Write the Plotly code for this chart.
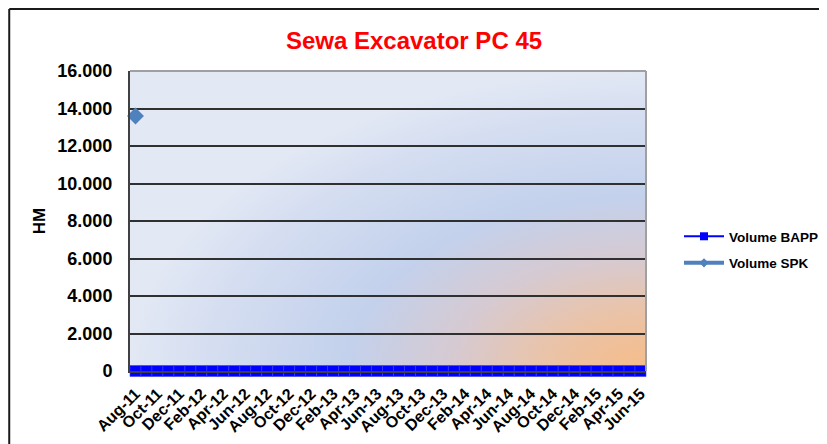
import base64
import plotly.graph_objects as go

months = ["Aug-11", "Sep-11", "Oct-11", "Nov-11", "Dec-11",
          "Jan-12", "Feb-12", "Mar-12", "Apr-12", "May-12", "Jun-12", "Jul-12",
          "Aug-12", "Sep-12", "Oct-12", "Nov-12", "Dec-12",
          "Jan-13", "Feb-13", "Mar-13", "Apr-13", "May-13", "Jun-13", "Jul-13",
          "Aug-13", "Sep-13", "Oct-13", "Nov-13", "Dec-13",
          "Jan-14", "Feb-14", "Mar-14", "Apr-14", "May-14", "Jun-14", "Jul-14",
          "Aug-14", "Sep-14", "Oct-14", "Nov-14", "Dec-14",
          "Jan-15", "Feb-15", "Mar-15", "Apr-15", "May-15", "Jun-15"]

tick_labels = ["Aug-11", "Oct-11", "Dec-11", "Feb-12", "Apr-12", "Jun-12",
               "Aug-12", "Oct-12", "Dec-12", "Feb-13", "Apr-13", "Jun-13",
               "Aug-13", "Oct-13", "Dec-13", "Feb-14", "Apr-14", "Jun-14",
               "Aug-14", "Oct-14", "Dec-14", "Feb-15", "Apr-15", "Jun-15"]

volume_bapp = [0, 0, 0, 0, 0, 0, 0, 0, 0, 0, 0, 0, 0, 0, 0, 0,
               0, 0, 0, 0, 0, 0, 0, 0, 0, 0, 0, 0, 0, 0, 0, 0,
               0, 0, 0, 0, 0, 0, 0, 0, 0, 0, 0, 0, 0, 0, 0]

volume_spk = [13600, None, None, None, None, None, None, None, None, None,
              None, None, None, None, None, None, None, None, None, None,
              None, None, None, None, None, None, None, None, None, None,
              None, None, None, None, None, None, None, None, None, None,
              None, None, None, None, None, None, None]

y_ticks = [0, 2000, 4000, 6000, 8000, 10000, 12000, 14000, 16000]

# plot area in figure pixels
L, R, T, B = 122, 639, 63, 363
W, H = R - L, B - T

svg = (
    '<svg xmlns="http://www.w3.org/2000/svg" width="517" height="300" '
    'viewBox="0 0 517 300" preserveAspectRatio="none">'
    '<defs><radialGradient id="g" cx="1" cy="1" r="1" fx="1" fy="1">'
    '<stop offset="0" stop-color="#F6BC88"/>'
    '<stop offset="0.2" stop-color="#EAC3A8"/>'
    '<stop offset="0.38" stop-color="#D6CAD2"/>'
    '<stop offset="0.58" stop-color="#C3D1EC"/>'
    '<stop offset="0.85" stop-color="#D5DEF1"/>'
    '<stop offset="1" stop-color="#E2E8F4"/>'
    '</radialGradient></defs>'
    '<rect x="0" y="0" width="517" height="300" fill="url(#g)"/></svg>'
)
bg_src = "data:image/svg+xml;base64," + base64.b64encode(svg.encode()).decode()

fig = go.Figure()
fig.add_trace(go.Scatter(
    x=months, y=volume_bapp, name="Volume BAPP", mode="lines+markers",
    line=dict(color="#0000FF", width=2),
    marker=dict(symbol="square", size=11, color="#0000FF", line=dict(width=0.6, color="#3A3AFF")),
    showlegend=False, cliponaxis=False,
))
fig.add_trace(go.Scatter(
    x=months, y=volume_spk, name="Volume SPK", mode="lines+markers",
    line=dict(color="#4F81BD", width=4),
    marker=dict(symbol="diamond", size=13, color="#4F81BD"),
    showlegend=False, cliponaxis=False,
))
# legend entries (Excel-style small markers)
fig.add_trace(go.Scatter(
    x=[None], y=[None], name="<b>Volume BAPP</b>", mode="lines+markers",
    line=dict(color="#0000FF", width=2),
    marker=dict(symbol="square", size=8, color="#0000FF"),
    legendgroup="a",
))
fig.add_trace(go.Scatter(
    x=[None], y=[None], name="<b>Volume SPK</b>", mode="lines+markers",
    line=dict(color="#4F81BD", width=4),
    marker=dict(symbol="diamond", size=7, color="#4F81BD"),
    legendgroup="b",
))

fig.update_layout(
    width=827, height=444,
    margin=dict(l=L, r=827 - R, t=T, b=444 - B),
    paper_bgcolor="white",
    plot_bgcolor="rgba(0,0,0,0)",
    font=dict(family="Arial, Liberation Sans, sans-serif", color="black"),
    title=dict(text="<b>Sewa Excavator PC 45</b>", font=dict(size=24, color="#FF0000"),
               x=406 / 827, xanchor="center", y=1 - 33 / 444, yanchor="middle",
               xref="container", yref="container"),
    xaxis=dict(
        type="category", range=[-0.5, 46.5],
        tickmode="array", tickvals=tick_labels, ticktext=["<b>%s</b>" % t for t in tick_labels],
        tickangle=-45, tickfont=dict(size=16),
        showgrid=False, ticks="", showline=True, linecolor="#404040", linewidth=2,
        ticklabelstandoff=5, zeroline=False,
    ),
    yaxis=dict(
        range=[0, 16000], tickmode="array", tickvals=y_ticks,
        ticktext=["<b>%s</b>" % ("{:,}".format(v).replace(",", ".")) for v in y_ticks],
        tickfont=dict(size=18), showgrid=True, gridcolor="#303030", gridwidth=1.5,
        showline=True, linecolor="#404040", linewidth=2, ticks="",
        zeroline=False, ticklabelstandoff=12,
        title=dict(text="<b>HM</b>", font=dict(size=17), standoff=7),
    ),
    legend=dict(
        x=(671 - L) / W, xanchor="left", y=(B - 213) / H, yanchor="top",
        font=dict(size=13.5), bgcolor="rgba(0,0,0,0)", tracegroupgap=6,
        traceorder="grouped", itemwidth=40,
    ),
    images=[dict(source=bg_src, xref="paper", yref="paper", x=0, y=1,
                 sizex=1, sizey=1, sizing="stretch", layer="below")],
    shapes=[
        dict(type="line", xref="paper", yref="paper", x0=0, x1=1, y0=1, y1=1,
             line=dict(color="#A0A0A0", width=2), layer="above"),
        dict(type="line", xref="paper", yref="paper", x0=1, x1=1, y0=0, y1=1,
             line=dict(color="#A0A0A0", width=2), layer="above"),
        dict(type="line", xref="paper", yref="paper", x0=(1 - L) / W, x1=(830 - L) / W,
             y0=(B - 1) / H, y1=(B - 1) / H, line=dict(color="#1A1A1A", width=2)),
        dict(type="line", xref="paper", yref="paper", x0=(1 - L) / W, x1=(1 - L) / W,
             y0=(B - 1) / H, y1=(B - 450) / H, line=dict(color="#1A1A1A", width=2)),
    ],
)

fig.write_html("out.html")
